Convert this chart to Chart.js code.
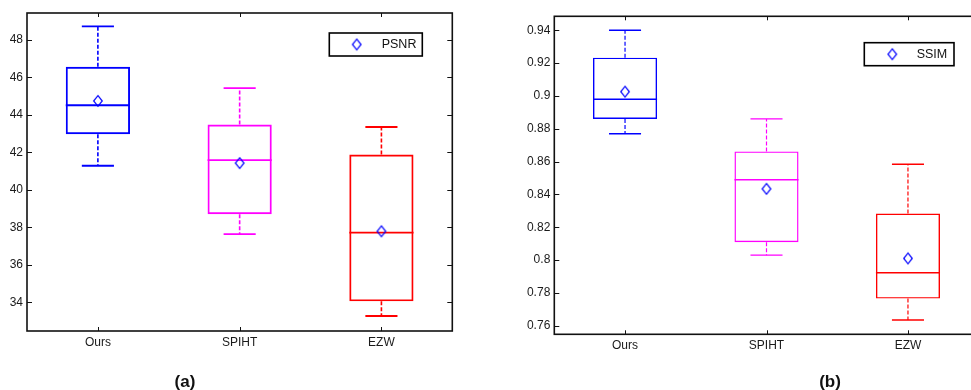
<!DOCTYPE html>
<html><head><meta charset="utf-8">
<script src="https://cdn.jsdelivr.net/npm/chart.js@4/dist/chart.umd.min.js"></script>
<style>
html,body{margin:0;padding:0;background:#fff;overflow:hidden;width:971px;height:390px;}
#wrapA{position:absolute;left:0;top:0;width:470px;height:390px;}
#wrapB{position:absolute;left:480px;top:0;width:520px;height:390px;}
canvas{display:block;}
</style></head><body>
<div id="wrapA"><canvas id="cA" width="470" height="390"></canvas></div>
<div id="wrapB"><canvas id="cB" width="520" height="390"></canvas></div>
<script>
// ---- data ----
const categories = ['Ours', 'SPIHT', 'EZW'];
const boxColors = ['#0000ff', '#ff00ff', '#ff0000'];

const psnrLowerWhisker = [41.29, 37.64, 33.27];
const psnrQ1           = [42.97, 38.70, 34.05];
const psnrMedian       = [44.52, 41.59, 37.72];
const psnrQ3           = [46.57, 43.49, 41.89];
const psnrUpperWhisker = [48.73, 45.43, 43.36];
const psnrMean         = [44.75, 41.43, 37.79];
const psnrTicks        = [34, 36, 38, 40, 42, 44, 46, 48];

const ssimLowerWhisker = [0.877, 0.803, 0.7635];
const ssimQ1           = [0.886, 0.8109, 0.7765];
const ssimMedian       = [0.898, 0.8489, 0.7923];
const ssimQ3           = [0.9233, 0.8662, 0.8283];
const ssimUpperWhisker = [0.940, 0.886, 0.8584];
const ssimMean         = [0.9026, 0.8434, 0.801];
const ssimTicks        = [0.76, 0.78, 0.80, 0.82, 0.84, 0.86, 0.88, 0.90, 0.92, 0.94];

const FONT = "'Liberation Sans', Arial, sans-serif";

// diamond marker image
function makeDiamond() {
  const c = document.createElement('canvas');
  c.width = 12; c.height = 14;
  const g = c.getContext('2d');
  g.strokeStyle = '#0000ff';
  g.lineWidth = 1.2;
  g.beginPath();
  g.moveTo(6, 1.7); g.lineTo(10.3, 7); g.lineTo(6, 12.3); g.lineTo(1.7, 7); g.closePath();
  g.stroke();
  return c;
}
const diamond = makeDiamond();

const boxPlugin = {
  id: 'boxParts',
  beforeDatasetsDraw(chart) {
    const o = chart.options.plugins.boxParts;
    const ctx = chart.ctx;
    const y = chart.scales.y;
    const meta = chart.getDatasetMeta(0);
    ctx.save();
    meta.data.forEach((el, i) => {
      const x = el.x, half = el.width / 2, cap = el.width / 4;
      ctx.strokeStyle = boxColors[i];
      ctx.lineWidth = o.lw;
      // median
      ctx.setLineDash([]);
      ctx.beginPath();
      const ym = y.getPixelForValue(o.median[i]);
      ctx.moveTo(x - half, ym); ctx.lineTo(x + half, ym);
      ctx.stroke();
      // caps
      const yu = y.getPixelForValue(o.upper[i]);
      const yl = y.getPixelForValue(o.lower[i]);
      ctx.beginPath();
      ctx.moveTo(x - cap, yu); ctx.lineTo(x + cap, yu);
      ctx.moveTo(x - cap, yl); ctx.lineTo(x + cap, yl);
      ctx.stroke();
      // dashed whiskers
      ctx.setLineDash([4, 2]);
      ctx.lineWidth = o.lw * 0.85;
      ctx.beginPath();
      ctx.moveTo(x, y.getPixelForValue(o.q3[i])); ctx.lineTo(x, yu);
      ctx.moveTo(x, y.getPixelForValue(o.q1[i])); ctx.lineTo(x, yl);
      ctx.stroke();
    });
    ctx.restore();
  },
  afterDraw(chart) {
    const o = chart.options.plugins.boxParts;
    const ctx = chart.ctx;
    const a = chart.chartArea;
    const xs = chart.scales.x, ys = chart.scales.y;
    ctx.save();
    ctx.setLineDash([]);
    ctx.strokeStyle = '#111';
    ctx.lineWidth = 1.6;
    ctx.strokeRect(a.left, a.top, a.right - a.left, a.bottom - a.top);
    // inward ticks
    ctx.lineWidth = 1;
    ctx.beginPath();
    const tl = 5;
    ys.ticks.forEach((t, i) => {
      const p = Math.round(ys.getPixelForTick(i)) + 0.5;
      ctx.moveTo(a.left, p); ctx.lineTo(a.left + tl, p);
      ctx.moveTo(a.right, p); ctx.lineTo(a.right - tl, p);
    });
    xs.ticks.forEach((t, i) => {
      const p = Math.round(xs.getPixelForTick(i)) + 0.5;
      ctx.moveTo(p, a.top); ctx.lineTo(p, a.top + tl - 1);
      ctx.moveTo(p, a.bottom); ctx.lineTo(p, a.bottom - tl + 1);
    });
    ctx.stroke();
    // legend
    const L = o.legend;
    const lx = a.right - L.right - L.w, ly = a.top + L.top;
    ctx.fillStyle = '#fff';
    ctx.fillRect(lx, ly, L.w, L.h);
    ctx.strokeStyle = '#000';
    ctx.lineWidth = 1.6;
    ctx.strokeRect(lx, ly, L.w, L.h);
    ctx.drawImage(diamond, lx + L.mx - 6, ly + L.h / 2 - 7);
    ctx.fillStyle = '#111';
    ctx.font = '12.5px ' + FONT;
    ctx.textBaseline = 'middle';
    ctx.textAlign = 'left';
    ctx.fillText(chart.data.datasets[1].label, lx + L.tx, ly + L.h / 2 + 0.5);
    // caption
    ctx.font = 'bold 17px ' + FONT;
    ctx.textAlign = 'center';
    ctx.textBaseline = 'alphabetic';
    ctx.fillText(o.caption, o.capX, 387);
    ctx.restore();
  }
};

function makeChart(id, cfg) {
  return new Chart(document.getElementById(id), {
    data: {
      labels: categories,
      datasets: [
        {
          type: 'bar',
          label: 'box',
          data: categories.map((c, i) => [cfg.q1[i], cfg.q3[i]]),
          borderColor: boxColors,
          backgroundColor: 'rgba(0,0,0,0)',
          borderWidth: cfg.lw,
          borderSkipped: false,
          barPercentage: 0.453,
          categoryPercentage: 1,
          order: 2
        },
        {
          type: 'line',
          label: cfg.label,
          data: cfg.mean,
          showLine: false,
          pointStyle: diamond,
          pointRadius: 6,
          pointHoverRadius: 6,
          order: 1
        }
      ]
    },
    options: {
      responsive: false,
      animation: false,
      events: [],
      layout: { padding: cfg.pad },
      plugins: {
        legend: { display: false },
        tooltip: { enabled: false },
        boxParts: {
          lw: cfg.lw, median: cfg.median, q1: cfg.q1, q3: cfg.q3,
          upper: cfg.upper, lower: cfg.lower, legend: cfg.legend,
          caption: cfg.caption, capX: cfg.capX
        }
      },
      scales: {
        x: {
          type: 'category',
          offset: true,
          grid: { display: false, drawTicks: false },
          border: { display: false },
          ticks: { color: '#1a1a1a', padding: 4, font: { family: FONT, size: 12 } },
          afterFit: s => { s.height = cfg.xh; }
        },
        y: {
          type: 'linear',
          min: cfg.min, max: cfg.max,
          grid: { display: false, drawTicks: false },
          border: { display: false },
          afterBuildTicks: s => { s.ticks = cfg.ticks.map(v => ({ value: v })); },
          ticks: {
            color: '#1a1a1a', padding: 4, font: { family: FONT, size: 12 },
            callback: v => String(+Number(v).toFixed(2))
          },
          afterFit: s => { s.width = cfg.yw; }
        }
      }
    },
    plugins: [boxPlugin]
  });
}

makeChart('cA', {
  label: 'PSNR',
  q1: psnrQ1, q3: psnrQ3, median: psnrMedian, upper: psnrUpperWhisker, lower: psnrLowerWhisker,
  mean: psnrMean, ticks: psnrTicks,
  min: 32.466, max: 49.443,
  lw: 1.9,
  pad: { left: 0, top: 13, right: 17.7, bottom: 0 },
  yw: 27, xh: 59,
  legend: { right: 30, top: 20, w: 93, h: 23, mx: 27.4, tx: 52.4 },
  caption: '(a)', capX: 185
});

makeChart('cB', {
  label: 'SSIM',
  q1: ssimQ1, q3: ssimQ3, median: ssimMedian, upper: ssimUpperWhisker, lower: ssimLowerWhisker,
  mean: ssimMean, ticks: ssimTicks,
  min: 0.75476, max: 0.94853,
  lw: 1.4,
  pad: { left: 0, top: 16.3, right: 21.3, bottom: 0 },
  yw: 74.3, xh: 55.7,
  legend: { right: 24.7, top: 26.4, w: 89.7, h: 23, mx: 28, tx: 52.4 },
  caption: '(b)', capX: 350
});
</script>
</body></html>
